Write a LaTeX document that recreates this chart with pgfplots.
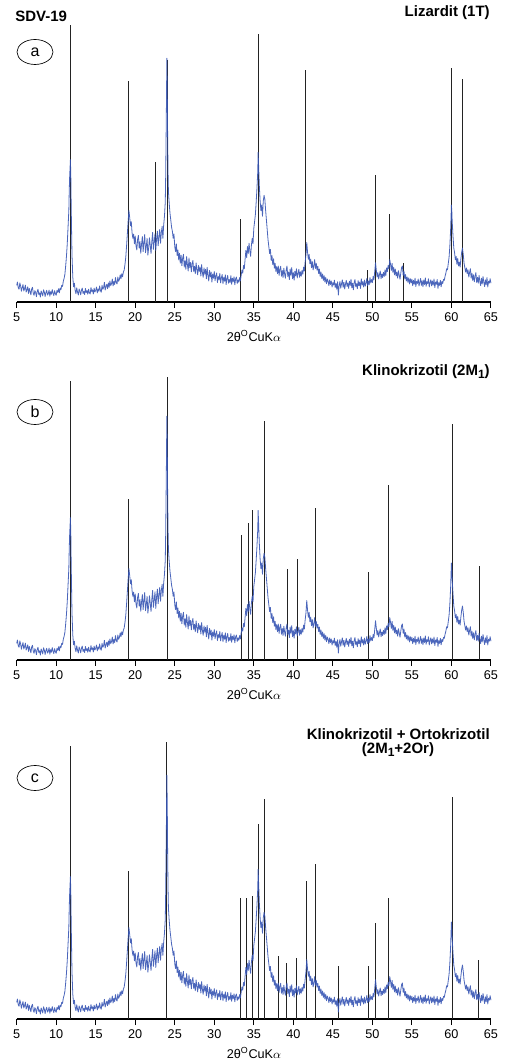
\documentclass[border=0pt]{standalone}
\usepackage{fontspec}
\setmainfont{Liberation Sans}
\usepackage{pgfplots}
\usepackage{pgfplotstable}
\pgfplotsset{compat=1.18}
\usetikzlibrary{shapes.geometric}

\definecolor{xrdblue}{RGB}{55,85,180}
\definecolor{stick}{RGB}{35,35,35}

% measured pattern of sample SDV-19 (same in all three panels)
\pgfplotstableread[row sep=\\]{
x y\\
5.0 6.0\\ 5.1 7.2\\ 5.2 5.1\\ 5.3 4.6\\ 5.4 6.9\\ 5.5 5.8\\ 5.6 3.9\\ 5.7 5.2\\ 5.8 6.3\\ 5.9 4.0\\
6.0 4.8\\ 6.1 6.1\\ 6.2 3.6\\ 6.3 4.4\\ 6.4 5.5\\ 6.5 3.1\\ 6.6 4.9\\ 6.7 3.8\\ 6.8 2.6\\ 6.9 4.7\\
7.0 5.3\\ 7.1 3.2\\ 7.2 2.4\\ 7.3 4.1\\ 7.4 3.5\\ 7.5 1.9\\ 7.6 3.8\\ 7.7 4.6\\ 7.8 2.7\\ 7.9 3.3\\
8.0 1.8\\ 8.1 4.0\\ 8.2 3.1\\ 8.3 2.2\\ 8.4 4.4\\ 8.5 3.6\\ 8.6 2.0\\ 8.7 3.4\\ 8.8 4.2\\ 8.9 2.5\\
9.0 3.0\\ 9.1 4.3\\ 9.2 2.1\\ 9.3 3.7\\ 9.4 2.8\\ 9.5 4.5\\ 9.6 3.2\\ 9.7 2.3\\ 9.8 4.1\\ 9.9 3.0\\
10.0 2.4\\ 10.1 4.2\\ 10.2 3.5\\ 10.3 4.8\\ 10.4 3.3\\ 10.5 5.0\\ 10.6 4.4\\ 10.7 6.0\\ 10.8 5.6\\ 10.9 7.5\\
11.0 8.5\\ 11.1 10.0\\ 11.2 13.0\\ 11.3 16.5\\ 11.4 21.0\\ 11.5 27.0\\ 11.6 33.0\\ 11.65 40.0\\ 11.7 45.0\\ 11.8 51.4\\
11.85 46.0\\ 11.9 34.0\\ 12.0 17.0\\ 12.1 9.0\\ 12.2 5.5\\ 12.3 6.8\\ 12.4 4.2\\
12.5 3.0\\ 12.6 5.1\\ 12.7 3.6\\ 12.8 2.5\\ 12.9 4.7\\ 13.0 3.9\\ 13.1 2.6\\ 13.2 4.3\\ 13.3 5.0\\ 13.4 3.1\\
13.5 3.8\\ 13.6 2.7\\ 13.7 4.9\\ 13.8 3.4\\ 13.9 4.1\\ 14.0 2.8\\ 14.1 4.6\\ 14.2 3.3\\ 14.3 2.9\\ 14.4 5.2\\
14.5 3.7\\ 14.6 4.4\\ 14.7 2.9\\ 14.8 5.0\\ 14.9 3.6\\ 15.0 4.2\\ 15.1 5.4\\ 15.2 3.3\\ 15.3 4.7\\ 15.4 3.9\\
15.5 5.8\\ 15.6 4.1\\ 15.7 3.5\\ 15.8 6.0\\ 15.9 4.6\\ 16.0 5.2\\ 16.1 7.1\\ 16.2 4.3\\ 16.3 5.6\\ 16.4 6.4\\
16.5 4.8\\ 16.6 6.9\\ 16.7 5.3\\ 16.8 7.6\\ 16.9 5.9\\ 17.0 6.6\\ 17.1 8.3\\ 17.2 5.8\\ 17.3 7.4\\ 17.4 6.3\\
17.5 8.8\\ 17.6 7.0\\ 17.7 6.5\\ 17.8 9.0\\ 17.9 7.5\\ 18.0 8.2\\ 18.1 9.8\\ 18.2 8.4\\ 18.3 10.2\\ 18.4 9.1\\
18.5 10.8\\ 18.6 11.5\\ 18.7 13.5\\ 18.8 16.0\\ 18.9 20.0\\ 19.0 24.5\\ 19.1 29.0\\ 19.2 33.0\\ 19.3 30.5\\ 19.4 27.5\\
19.5 29.0\\ 19.6 25.0\\ 19.7 23.0\\ 19.8 24.5\\ 19.9 21.0\\
20.0 23.8\\ 20.1 20.2\\ 20.2 18.8\\ 20.3 22.6\\ 20.4 24.0\\ 20.5 19.4\\ 20.6 21.8\\ 20.7 17.6\\ 20.8 20.9\\ 20.9 23.6\\
21.0 18.2\\ 21.1 21.4\\ 21.2 24.4\\ 21.3 17.8\\ 21.4 20.0\\ 21.5 22.9\\ 21.6 16.9\\ 21.7 19.6\\ 21.8 23.2\\ 21.9 20.4\\
22.0 17.5\\ 22.1 22.0\\ 22.2 25.1\\ 22.3 19.0\\ 22.4 21.7\\ 22.5 24.6\\ 22.6 18.6\\ 22.7 22.8\\ 22.8 25.6\\ 22.9 20.3\\
23.0 23.4\\ 23.1 26.2\\ 23.2 21.2\\ 23.3 25.0\\ 23.4 27.3\\ 23.5 23.0\\ 23.6 27.8\\ 23.7 31.0\\ 23.8 36.0\\ 23.85 45.0\\
23.9 58.0\\ 23.95 72.0\\ 24.0 88.0\\ 24.05 78.0\\ 24.1 60.0\\ 24.15 47.0\\ 24.2 40.0\\ 24.3 35.5\\ 24.4 32.0\\ 24.5 29.5\\
24.6 27.0\\ 24.7 25.5\\ 24.8 23.0\\ 24.9 24.5\\ 25.0 20.0\\
25.1 18.2\\ 25.2 21.0\\ 25.3 16.8\\ 25.4 18.8\\ 25.5 15.2\\ 25.6 17.6\\ 25.7 14.0\\ 25.8 16.9\\ 25.9 13.1\\ 26.0 15.8\\
26.1 17.2\\ 26.2 12.6\\ 26.3 14.9\\ 26.4 11.8\\ 26.5 16.4\\ 26.6 13.5\\ 26.7 11.2\\ 26.8 15.9\\ 26.9 12.4\\ 27.0 14.3\\
27.1 10.9\\ 27.2 13.8\\ 27.3 15.0\\ 27.4 11.0\\ 27.5 12.9\\ 27.6 10.2\\ 27.7 14.1\\ 27.8 11.7\\ 27.9 9.8\\ 28.0 13.2\\
28.1 11.0\\ 28.2 12.6\\ 28.3 9.4\\ 28.4 13.5\\ 28.5 10.6\\ 28.6 8.9\\ 28.7 12.3\\ 28.8 10.0\\ 28.9 11.8\\ 29.0 8.4\\
29.1 12.5\\ 29.2 9.6\\ 29.3 7.6\\ 29.4 11.4\\ 29.5 9.0\\ 29.6 10.8\\ 29.7 7.2\\ 29.8 10.1\\ 29.9 8.6\\ 30.0 11.0\\
30.1 7.7\\ 30.2 9.4\\ 30.3 10.5\\ 30.4 7.0\\ 30.5 9.2\\ 30.6 8.0\\ 30.7 10.3\\ 30.8 6.9\\ 30.9 8.7\\ 31.0 9.9\\
31.1 6.6\\ 31.2 8.9\\ 31.3 7.5\\ 31.4 9.8\\ 31.5 6.3\\ 31.6 8.4\\ 31.7 9.6\\ 31.8 6.8\\ 31.9 8.1\\ 32.0 7.0\\
32.1 9.5\\ 32.2 6.4\\ 32.3 8.6\\ 32.4 7.3\\ 32.5 9.1\\ 32.6 6.2\\ 32.7 8.3\\ 32.8 9.0\\ 32.9 6.7\\ 33.0 8.0\\
33.1 7.1\\ 33.2 8.8\\ 33.3 7.6\\ 33.4 9.6\\ 33.5 11.5\\ 33.6 10.4\\ 33.7 13.2\\ 33.8 12.0\\ 33.9 15.5\\ 34.0 18.6\\
34.1 16.0\\ 34.2 20.0\\ 34.3 17.5\\ 34.4 21.2\\ 34.5 18.4\\ 34.6 16.5\\ 34.7 20.6\\ 34.8 23.0\\ 34.9 21.0\\ 35.0 26.5\\
35.1 29.0\\ 35.2 31.5\\ 35.3 36.0\\ 35.4 41.0\\ 35.5 47.0\\ 35.55 54.0\\ 35.6 50.0\\ 35.7 42.0\\ 35.8 36.5\\ 35.9 33.0\\
36.0 35.0\\ 36.1 31.0\\ 36.2 36.5\\ 36.3 38.5\\ 36.4 37.0\\ 36.5 33.0\\ 36.6 29.5\\ 36.7 26.0\\ 36.8 22.5\\ 36.9 20.0\\
37.0 17.5\\ 37.1 19.0\\ 37.2 15.0\\ 37.3 16.8\\ 37.4 13.5\\ 37.5 15.6\\ 37.6 12.2\\ 37.7 13.9\\ 37.8 11.0\\ 37.9 12.8\\
38.0 10.2\\ 38.1 13.0\\ 38.2 9.6\\ 38.3 11.8\\ 38.4 12.9\\ 38.5 9.3\\ 38.6 11.4\\ 38.7 8.8\\ 38.8 12.2\\ 38.9 10.1\\
39.0 8.6\\ 39.1 11.6\\ 39.2 13.0\\ 39.3 9.2\\ 39.4 10.8\\ 39.5 8.1\\ 39.6 11.9\\ 39.7 9.7\\ 39.8 12.4\\ 39.9 8.4\\
40.0 10.6\\ 40.1 7.9\\ 40.2 11.1\\ 40.3 9.4\\ 40.4 12.0\\ 40.5 8.7\\ 40.6 10.3\\ 40.7 11.8\\ 40.8 8.9\\ 40.9 10.9\\
41.0 9.3\\ 41.1 11.4\\ 41.2 10.0\\ 41.3 12.6\\ 41.4 11.2\\ 41.5 14.5\\ 41.6 17.0\\ 41.7 21.5\\ 41.8 18.0\\ 41.9 15.4\\
42.0 17.2\\ 42.1 13.8\\ 42.2 15.5\\ 42.3 12.4\\ 42.4 14.6\\ 42.5 11.6\\ 42.6 13.0\\ 42.7 15.3\\ 42.8 12.1\\ 42.9 14.0\\
43.0 11.5\\ 43.1 12.9\\ 43.2 10.3\\ 43.3 11.9\\ 43.4 9.2\\ 43.5 10.8\\ 43.6 8.5\\ 43.7 10.1\\ 43.8 7.8\\ 43.9 9.5\\
44.0 7.2\\ 44.1 8.9\\ 44.2 6.6\\ 44.3 8.3\\ 44.4 7.5\\ 44.5 5.9\\ 44.6 8.0\\ 44.7 6.3\\ 44.8 7.6\\ 44.9 5.4\\
45.0 7.0\\ 45.1 6.1\\ 45.2 7.9\\ 45.3 5.2\\ 45.4 6.7\\ 45.5 4.6\\ 45.6 7.3\\ 45.7 2.5\\ 45.8 6.0\\ 45.9 7.4\\
46.0 5.0\\ 46.1 6.6\\ 46.2 8.0\\ 46.3 5.3\\ 46.4 7.1\\ 46.5 4.7\\ 46.6 6.4\\ 46.7 7.8\\ 46.8 5.6\\ 46.9 6.9\\
47.0 4.9\\ 47.1 7.5\\ 47.2 6.0\\ 47.3 8.2\\ 47.4 5.1\\ 47.5 6.8\\ 47.6 4.4\\ 47.7 7.0\\ 47.8 8.1\\ 47.9 5.5\\
48.0 6.6\\ 48.1 4.8\\ 48.2 7.7\\ 48.3 5.9\\ 48.4 7.2\\ 48.5 4.9\\ 48.6 8.4\\ 48.7 6.1\\ 48.8 7.3\\ 48.9 5.4\\
49.0 7.9\\ 49.1 5.7\\ 49.2 6.8\\ 49.3 8.5\\ 49.4 5.9\\ 49.5 7.6\\ 49.6 6.2\\ 49.7 8.8\\ 49.8 6.9\\ 49.9 8.1\\
50.0 7.0\\ 50.1 9.2\\ 50.2 8.0\\ 50.3 11.0\\ 50.4 14.2\\ 50.5 11.5\\ 50.6 9.0\\ 50.7 10.6\\ 50.8 8.3\\ 50.9 9.9\\
51.0 11.2\\ 51.1 8.4\\ 51.2 10.1\\ 51.3 8.8\\ 51.4 10.7\\ 51.5 9.2\\ 51.6 11.6\\ 51.7 9.5\\ 51.8 12.3\\ 51.9 11.0\\
52.0 13.2\\ 52.1 12.0\\ 52.2 15.3\\ 52.3 13.6\\ 52.4 11.4\\ 52.5 13.9\\ 52.6 10.7\\ 52.7 12.5\\ 52.8 9.8\\ 52.9 11.9\\
53.0 9.4\\ 53.1 10.8\\ 53.2 8.6\\ 53.3 11.3\\ 53.4 9.7\\ 53.5 8.2\\ 53.6 10.5\\ 53.7 12.4\\ 53.8 13.0\\ 53.9 9.6\\
54.0 11.2\\ 54.1 8.3\\ 54.2 9.9\\ 54.3 7.6\\ 54.4 9.0\\ 54.5 7.1\\ 54.6 8.7\\ 54.7 6.5\\ 54.8 8.4\\ 54.9 6.9\\
55.0 8.2\\ 55.1 5.9\\ 55.2 7.8\\ 55.3 6.4\\ 55.4 8.6\\ 55.5 5.6\\ 55.6 7.4\\ 55.7 6.7\\ 55.8 8.3\\ 55.9 5.8\\
56.0 7.1\\ 56.1 8.5\\ 56.2 6.0\\ 56.3 7.7\\ 56.4 5.5\\ 56.5 7.9\\ 56.6 6.3\\ 56.7 8.7\\ 56.8 5.7\\ 56.9 7.3\\
57.0 6.6\\ 57.1 8.4\\ 57.2 5.4\\ 57.3 7.0\\ 57.4 8.0\\ 57.5 5.8\\ 57.6 7.6\\ 57.7 6.1\\ 57.8 8.3\\ 57.9 5.2\\
58.0 7.2\\ 58.1 6.4\\ 58.2 8.1\\ 58.3 4.9\\ 58.4 7.0\\ 58.5 6.0\\ 58.6 7.8\\ 58.7 5.5\\ 58.8 7.4\\ 58.9 6.6\\
59.0 8.2\\ 59.1 7.8\\ 59.2 9.3\\ 59.3 10.4\\ 59.4 12.0\\ 59.5 11.6\\ 59.6 13.8\\ 59.7 16.0\\ 59.8 20.0\\ 59.9 26.0\\
60.0 35.0\\ 60.05 33.0\\ 60.1 29.0\\ 60.2 24.0\\ 60.3 19.5\\ 60.4 17.8\\ 60.5 15.2\\ 60.6 16.4\\ 60.7 13.6\\ 60.8 15.8\\
60.9 13.0\\ 61.0 14.4\\ 61.1 12.6\\ 61.2 15.5\\ 61.3 18.0\\ 61.4 19.5\\ 61.5 17.2\\ 61.6 14.0\\ 61.7 12.4\\ 61.8 10.8\\
61.9 12.3\\ 62.0 10.2\\ 62.1 11.6\\ 62.2 9.0\\ 62.3 10.7\\ 62.4 12.0\\ 62.5 8.6\\ 62.6 10.4\\ 62.7 7.8\\ 62.8 9.8\\
62.9 7.3\\ 63.0 9.4\\ 63.1 10.6\\ 63.2 7.0\\ 63.3 8.9\\ 63.4 6.8\\ 63.5 9.6\\ 63.6 7.4\\ 63.7 5.9\\ 63.8 8.6\\
63.9 6.5\\ 64.0 9.2\\ 64.1 7.1\\ 64.2 5.6\\ 64.3 8.0\\ 64.4 6.2\\ 64.5 8.8\\ 64.6 5.4\\ 64.7 7.5\\ 64.8 6.8\\
64.9 8.4\\ 65.0 6.8\\
}\xrdpattern

% reference lines
\pgfplotstableread{
x y
11.85 100
19.10 79.8
22.55 50.4
24.05 87.5
33.35 30.1
35.55 96.7
41.55 83.7
49.35 11.7
50.40 45.8
52.20 31.6
53.90 14.1
60.00 84.6
61.45 80.6
}\lizardit

\pgfplotstableread{
x y
11.85 100.8
19.12 58.2
24.06 102
33.41 45.2
34.30 49.6
34.89 54.2
36.41 86.4
39.27 32.9
40.54 36.4
42.86 54.8
49.56 31.9
52.09 63.0
60.14 85.2
63.60 33.8
}\klino

\pgfplotstableread{
x y
11.83 98.6
19.12 53.4
23.97 100
33.29 43.6
34.09 43.6
34.85 44.4
35.57 70.3
36.32 79.5
38.18 22.8
39.11 20.2
40.46 22.0
41.64 49.8
42.86 56.1
45.73 19.3
49.52 19.3
50.41 34.6
52.05 43.6
60.10 80.3
63.43 21.2
}\klinorto

\pgfplotsset{
  xrd/.style={
    scale only axis, width=355.7pt, height=207.75pt,
    anchor=south west,
    xmin=5, xmax=65, ymin=0, ymax=100,
    axis x line*=bottom, hide y axis,
    xtick={5,10,...,65},
    xtick align=outside, major tick length=4.5pt,
    axis line style={black, line width=0.8pt},
    tick style={black, line width=0.7pt},
    xticklabel style={font=\fontsize{9.5}{10}\selectfont},
    /pgf/number format/assume math mode=true,
    clip=false,
  },
  stk/.style={ycomb, draw=stick, line width=0.75pt, no marks},
  pat/.style={draw=xrdblue, line width=0.6pt, no marks, opacity=0.9, line join=round},
}

\newcommand\xl{2θ\textsuperscript{O}CuK$\alpha$}
\newcommand\sub[1]{\raisebox{-0.35ex}{\fontsize{9}{9}\selectfont #1}}

\begin{document}
\begin{tikzpicture}
\path[use as bounding box] (0,0) rectangle (378.75pt,798pt);

\begin{axis}[xrd, at={(12.5pt,571.5pt)}]
  \addplot[stk] table {\lizardit};
  \addplot[pat] table {\xrdpattern};
\end{axis}

\begin{axis}[xrd, at={(12.5pt,303pt)}]
  \addplot[stk] table {\klino};
  \addplot[pat] table {\xrdpattern};
\end{axis}

\begin{axis}[xrd, at={(12.5pt,33.75pt)}]
  \addplot[stk] table {\klinorto};
  \addplot[pat] table {\xrdpattern};
\end{axis}

\begin{scope}[font=\bfseries\fontsize{11.25}{12}\selectfont]
  \node[anchor=west, inner sep=0] at (11.25pt,786pt) {SDV-19};
  \node[anchor=east, inner sep=0] at (367.5pt,788.25pt) {Lizardit (1T)};
  \node[anchor=east, inner sep=0] at (367.5pt,519pt) {Klinokrizotil (2M\sub{1})};
  \node[anchor=east, inner sep=0] at (367.5pt,247.5pt) {Klinokrizotil + Ortokrizotil};
  \node[inner sep=0] at (298.5pt,235.5pt) {(2M\sub{1}+2Or)};
\end{scope}

\begin{scope}[every node/.style={draw, ellipse, line width=0.5pt, inner sep=0,
    minimum width=27pt, minimum height=18.75pt, font=\fontsize{12}{12}\selectfont}]
  \node at (26.25pt,759pt) {a};
  \node at (26.25pt,489pt) {b};
  \node at (26.25pt,214.5pt) {c};
\end{scope}

\begin{scope}[every node/.style={font=\fontsize{9.5}{10}\selectfont, inner sep=0}]
  \node at (190.5pt,546pt) {\xl};
  \node at (190.5pt,277.5pt) {\xl};
  \node at (190.5pt,8.25pt) {\xl};
\end{scope}
\end{tikzpicture}
\end{document}
